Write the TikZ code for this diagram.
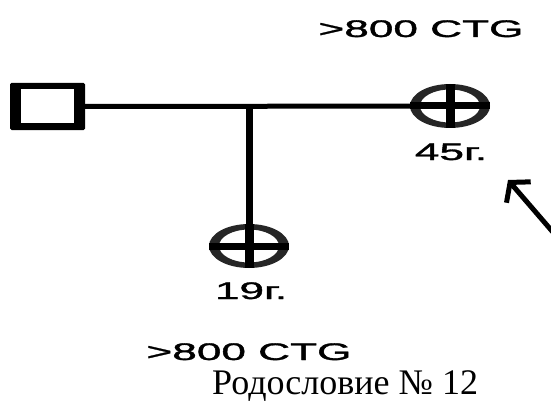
\documentclass[tikz,border=0pt]{standalone}
\usepackage{fontspec}
\usepackage{graphicx}
\setmainfont{Liberation Serif}
\newfontfamily\labelfont[RawFeature={embolden=1.2}]{Liberation Sans}
\usetikzlibrary{arrows.meta,shapes.geometric}

\tikzset{
  link/.style={line width=5pt, black},
  drop/.style={line width=7pt, black},
  person/.style={ellipse, minimum width=80pt, minimum height=44pt, inner sep=0pt},
  widetext/.style={anchor=base, inner sep=0pt, font=\labelfont\fontsize{24}{24}\selectfont},
  caption/.style={anchor=base west, inner sep=0pt, font=\fontsize{36}{36}\selectfont},
  pointer/.style={line width=5pt, -{Straight Barb[length=13pt, width=32pt, line width=5pt]}},
}
\newcommand{\wide}[1]{\scalebox{1.84}[1]{#1}}

\begin{document}
\begin{tikzpicture}[x=1pt, y=-1pt]
  \useasboundingbox (0,0) rectangle (551,401);

  % proband box: heavy frame, thicker on the sides
  \node[fill=black, minimum width=75pt, minimum height=47pt, inner sep=0pt,
        rounded corners=1.5pt] (box) at (47.5,106.5) {};
  \node[fill=white, minimum width=53pt, minimum height=34pt, inner sep=0pt] at (box.center) {};

  % relatives
  \node[person] (p45) at (450,106) {};
  \node[person] (p19) at (249,246) {};
  \coordinate (tee) at (249,106);

  % connectors
  \draw[link] (box.east) -- (p45.center);
  \draw[drop] (tee) -- (p19.center);

  % ring and cross of each deceased relative
  \foreach \p in {p45,p19} {
    \fill[black!85, even odd rule]
      (\p.center) ellipse [x radius=40pt, y radius=22pt]
      (\p.center) ellipse [x radius=30pt, y radius=16.5pt];
    \fill[black] ([xshift=-40pt, yshift=-3.5pt]\p.center) rectangle ([xshift=40pt, yshift=3.5pt]\p.center);
    \fill[black] ([xshift=-4.5pt, yshift=-22pt]\p.center) rectangle ([xshift=4.5pt, yshift=22pt]\p.center);
  }

  % labels
  \node[widetext] (t45) at (451,160) {\wide{45г.}};
  \node[widetext] (t19) at (251,299) {\wide{19г.}};
  \node[widetext] (ctgtop) at (421,37) {\wide{>800 CTG}};
  \node[widetext] (ctgbottom) at (249,360) {\wide{>800 CTG}};
  \node[caption] (title) at (212,394) {Родословие № 12};

  % pointer arrow
  \coordinate (arrowtail) at (558,238);
  \coordinate (arrowtip) at (508,180);
  \draw[pointer] (arrowtail) -- (arrowtip);
\end{tikzpicture}
\end{document}
